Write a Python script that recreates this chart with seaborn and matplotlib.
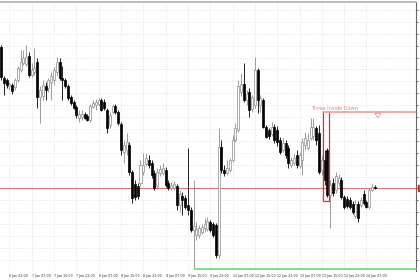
import numpy as np
import matplotlib
matplotlib.use("Agg")
import matplotlib.pyplot as plt
import seaborn as sns

sns.set_style("white")
plt.rcParams['font.family'] = ['DejaVu Sans']

# ---- data (hourly candles) ----
opens = [1.1653,1.1622,1.1620,1.1614,1.1615,1.1613,1.1620,1.1630,1.1637,1.1636,1.1644,1.1625,1.1628,1.1638,1.1603,
         1.1604,1.1614,1.1612,1.1618,1.1620,1.1628,1.1638,1.1622,1.1620,1.1614,1.1603,1.1598,1.1593,1.1582,1.1583,
         1.1586,1.1584,1.1580,1.1593,1.1595,1.1596,1.1600,1.1598,1.1590,1.1575,1.1588,1.1594,1.1588,1.1576,1.1548,
         1.1550,1.1555,1.1528,1.1516,1.1514,1.1517,1.1528,1.1536,1.1540,1.1537,1.1527,1.1514,1.1527,1.1527,1.1530,
         1.1517,1.1512,1.1512,1.1514,1.1495,1.1504,1.1502,1.1495,1.1490,1.1470,1.1465,1.1465,1.1468,1.1472,1.1471,
         1.1478,1.1476,1.1475,1.1445,1.1553,1.1530,1.1527,1.1530,1.1540,1.1560,1.1570,1.1608,1.1616,1.1600,1.1608,
         1.1591,1.1595,1.1630,1.1595,1.1600,1.1573,1.1570,1.1566,1.1573,1.1570,1.1560,1.1550,1.1557,1.1552,1.1535,
         1.1537,1.1545,1.1534,1.1540,1.1555,1.1552,1.1562,1.1564,1.1572,1.1567,1.1530,1.1540,1.1550,1.1505,1.1517,
         1.1510,1.1517,1.1520,1.1503,1.1501,1.1500,1.1496,1.1484,1.1496,1.1495,1.1506,1.1498,1.1493,1.1510,1.1513]
highs = [1.1655,1.1624,1.1622,1.1618,1.1617,1.1622,1.1634,1.1650,1.1650,1.1655,1.1648,1.1637,1.1652,1.1642,1.1614,
         1.1620,1.1618,1.1622,1.1628,1.1633,1.1643,1.1642,1.1634,1.1622,1.1616,1.1605,1.1600,1.1595,1.1590,1.1590,
         1.1588,1.1586,1.1596,1.1600,1.1601,1.1602,1.1602,1.1601,1.1592,1.1588,1.1596,1.1596,1.1590,1.1578,1.1560,
         1.1567,1.1558,1.1530,1.1520,1.1517,1.1540,1.1547,1.1547,1.1545,1.1540,1.1530,1.1532,1.1535,1.1537,1.1533,
         1.1520,1.1518,1.1519,1.1516,1.1510,1.1508,1.1505,1.1552,1.1493,1.1520,1.1478,1.1475,1.1476,1.1482,1.1483,
         1.1480,1.1478,1.1477,1.1572,1.1560,1.1535,1.1540,1.1542,1.1565,1.1577,1.1620,1.1627,1.1637,1.1610,1.1612,
         1.1605,1.1643,1.1632,1.1605,1.1602,1.1575,1.1572,1.1578,1.1576,1.1574,1.1563,1.1562,1.1560,1.1555,1.1543,
         1.1546,1.1550,1.1548,1.1562,1.1568,1.1567,1.1582,1.1582,1.1574,1.1575,1.1545,1.1550,1.1552,1.1520,1.1522,
         1.1528,1.1526,1.1523,1.1505,1.1504,1.1503,1.1499,1.1500,1.1499,1.1503,1.1510,1.1500,1.1512,1.1516,1.1515]
lows = [1.1620,1.1605,1.1612,1.1610,1.1606,1.1610,1.1618,1.1628,1.1635,1.1634,1.1623,1.1623,1.1625,1.1592,1.1577,
        1.1600,1.1600,1.1608,1.1600,1.1615,1.1624,1.1620,1.1600,1.1612,1.1600,1.1595,1.1591,1.1582,1.1578,1.1580,
        1.1581,1.1579,1.1578,1.1592,1.1590,1.1594,1.1589,1.1590,1.1567,1.1572,1.1586,1.1586,1.1575,1.1545,1.1537,
        1.1545,1.1525,1.1497,1.1500,1.1501,1.1514,1.1525,1.1534,1.1532,1.1522,1.1510,1.1511,1.1524,1.1525,1.1513,
        1.1510,1.1510,1.1510,1.1490,1.1488,1.1485,1.1491,1.1485,1.1468,1.1431,1.1460,1.1462,1.1466,1.1468,1.1469,
        1.1468,1.1463,1.1442,1.1442,1.1527,1.1524,1.1525,1.1528,1.1538,1.1558,1.1568,1.1604,1.1598,1.1595,1.1583,
        1.1588,1.1592,1.1587,1.1588,1.1572,1.1562,1.1561,1.1564,1.1557,1.1554,1.1546,1.1548,1.1542,1.1532,1.1533,
        1.1535,1.1532,1.1532,1.1525,1.1550,1.1550,1.1560,1.1560,1.1555,1.1526,1.1525,1.1515,1.1503,1.1472,1.1504,
        1.1507,1.1514,1.1501,1.1491,1.1492,1.1491,1.1486,1.1482,1.1478,1.1493,1.1495,1.1492,1.1491,1.1509,1.1511]
closes = [1.1623,1.1617,1.1615,1.1616,1.1609,1.1620,1.1632,1.1638,1.1642,1.1643,1.1625,1.1630,1.1632,1.1603,1.1610,
          1.1615,1.1610,1.1620,1.1624,1.1630,1.1638,1.1622,1.1620,1.1614,1.1602,1.1597,1.1592,1.1585,1.1586,1.1586,
          1.1582,1.1580,1.1594,1.1597,1.1598,1.1600,1.1590,1.1592,1.1572,1.1585,1.1594,1.1588,1.1577,1.1550,1.1555,
          1.1558,1.1528,1.1502,1.1503,1.1504,1.1535,1.1535,1.1542,1.1535,1.1525,1.1512,1.1528,1.1531,1.1532,1.1515,
          1.1512,1.1515,1.1516,1.1495,1.1506,1.1500,1.1493,1.1490,1.1470,1.1474,1.1471,1.1472,1.1473,1.1476,1.1479,
          1.1470,1.1465,1.1445,1.1553,1.1530,1.1527,1.1532,1.1540,1.1560,1.1572,1.1614,1.1616,1.1600,1.1606,1.1590,
          1.1603,1.1630,1.1600,1.1602,1.1573,1.1563,1.1564,1.1573,1.1560,1.1558,1.1548,1.1557,1.1545,1.1537,1.1540,
          1.1542,1.1535,1.1545,1.1558,1.1562,1.1560,1.1573,1.1573,1.1560,1.1528,1.1540,1.1520,1.1505,1.1515,1.1507,
          1.1524,1.1522,1.1503,1.1493,1.1494,1.1493,1.1488,1.1496,1.1482,1.1500,1.1497,1.1493,1.1510,1.1513,1.1512]

date_labels = ["6 Jan 23:00", "7 Jan 07:00", "7 Jan 15:00", "7 Jan 23:00", "8 Jan 07:00", "8 Jan 15:00",
               "8 Jan 23:00", "9 Jan 07:00", "9 Jan 15:00", "9 Jan 23:00", "12 Jan 07:00", "12 Jan 15:00",
               "12 Jan 23:00", "13 Jan 07:00", "13 Jan 15:00", "13 Jan 23:00", "14 Jan 07:00"]

pattern_name = "Three Inside Down"
pattern_level = 1.1588      # pink signal line
pattern_box = (115.25, 117.4, 1.1499, 1.1588)   # candle range / price range of the pattern box
low_level = 1.1431          # green line at the lowest low
current_price = 1.1512

n = len(opens)
assert n == len(highs) == len(lows) == len(closes)
idx = np.arange(n)
o = np.array(opens); h = np.array(highs); l = np.array(lows); c = np.array(closes)

W, H = 420, 280
fig = plt.figure(figsize=(W / 100, H / 100), dpi=100)
fig.patch.set_facecolor("white")
ax = fig.add_axes([0, 9 / H, 416 / W, (271 - 2) / H])
ax.set_facecolor("white")

x_left = -0.36
x_right = 148.75
ax.set_xlim(x_left, x_right)
ax.set_ylim(1.1429, 1.1698)

# grid
yt = 1.1690 - 0.00119 * np.arange(0, 23)
yt = yt[yt > 1.1429]
xt = 3 + 8 * np.arange(len(date_labels))
for y in yt:
    ax.axhline(y, color="#d9d9d9", lw=0.5, ls=(0, (1, 1.5)), zorder=0)
for x in xt:
    ax.axvline(x, color="#d9d9d9", lw=0.5, ls=(0, (1, 1.5)), zorder=0)

# candles
bull = c >= o
wick_col = np.where(bull, "#8c8c8c", "#000000")
ax.vlines(idx, l, h, colors=wick_col, lw=0.6, zorder=2)
body_bot = np.minimum(o, c)
body_h = np.maximum(np.abs(c - o), 0.00003)
ax.bar(idx[bull], body_h[bull], bottom=body_bot[bull], width=0.72, color="white",
       edgecolor="#8c8c8c", linewidth=0.5, zorder=3)
ax.bar(idx[~bull], body_h[~bull], bottom=body_bot[~bull], width=0.72, color="black",
       edgecolor="black", linewidth=0.5, zorder=3)

# current price line
ax.axhline(current_price, color="#e07070", lw=0.8, zorder=1)

# pattern annotation
x0, x1, yb, yt_box = pattern_box
ax.plot([x0, x0, x1, x1], [yt_box, yb, yb, yt_box], color="#e53030", lw=0.9, zorder=4)
ax.plot([x0, x_right], [pattern_level, pattern_level], color="#f5a0a0", lw=1.3, zorder=4)
ax.text(111, pattern_level + 0.00012, pattern_name, color="#f07a7a", fontsize=3.6,
        ha="left", va="bottom", zorder=5)
ax.annotate("", xy=(135.1, pattern_level - 0.00085), xytext=(135.1, pattern_level - 0.0001),
            arrowprops=dict(arrowstyle="simple,head_length=0.6,head_width=0.9,tail_width=0.45",
                            mutation_scale=5, fc="white", ec="#f08080", lw=0.5), zorder=5)

# lowest-low line
ax.plot([69.4, x_right], [low_level, low_level], color="#77dd77", lw=1.3, zorder=4, clip_on=False)

# axes styling
ax.yaxis.tick_right()
ax.set_yticks(yt)
ax.set_yticklabels([f"{v:.5f}" for v in yt])
ax.set_xticks(xt)
ax.set_xticklabels(date_labels)
for lab in ax.get_xticklabels():
    lab.set_ha("left")
ax.tick_params(axis="y", length=1.5, width=0.5, pad=0.8, labelsize=3, colors="#333333", direction="out")
ax.tick_params(axis="x", length=1.5, width=0.4, pad=0.6, labelsize=2.3, colors="#333333", direction="out")
for s in ["left", "bottom"]:
    ax.spines[s].set_visible(False)
ax.spines["right"].set_color("#666666")
ax.spines["right"].set_linewidth(0.8)
ax.spines["top"].set_color("#b0b0b0")
ax.spines["top"].set_linewidth(1.2)

# price tag
ax.annotate(f"{current_price:.5f}", xy=(1.006, current_price), xycoords=("axes fraction", "data"),
            fontsize=3, color="white", va="center", ha="left", annotation_clip=False,
            bbox=dict(boxstyle="square,pad=0.15", fc="#dd2222", ec="#dd2222"))

fig.savefig("out.png", dpi=100)
